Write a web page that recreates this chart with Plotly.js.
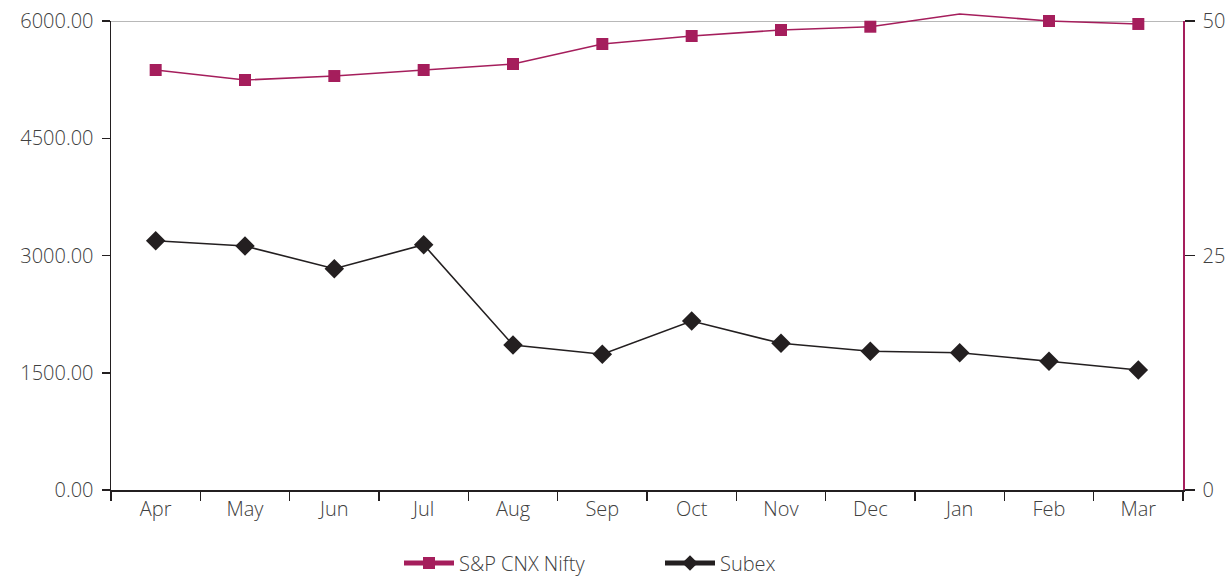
<!DOCTYPE html>
<html>
<head>
<meta charset="utf-8">
<script src="https://cdn.plot.ly/plotly-3.0.1.min.js"></script>
<style>html,body{margin:0;padding:0;background:#fff}#chart{width:1230px;height:580px}</style>
</head>
<body>
<div id="chart"></div>
<script>
var months = ["Apr","May","Jun","Jul","Aug","Sep","Oct","Nov","Dec","Jan","Feb","Mar"];
var nifty = [5373, 5245, 5296, 5373, 5450, 5706, 5808, 5885, 5927, 6090, 6000, 5962];
var subex = [26.58, 26.01, 23.59, 26.15, 15.46, 14.47, 18.02, 15.64, 14.79, 14.64, 13.72, 12.79];
var niftyName = "S&P CNX Nifty";
var subexName = "Subex";

var leftMax = 6000, rightMax = 50;
var magenta = "#A51E5C";
var dark = "#231F20";
var txt = "#404040";
var fontFam = "'Open Sans', sans-serif";

// geometry of the frame (px)
var W = 1230, H = 580, mT = 11, mB = 90, mL = 111, mR = 47;
var plotH = H - mT - mB;          // full height available to the Nifty subplot
var axisH = plotH - 10;           // height of the visible axes (top at 6000)
var domTop = axisH / plotH;

var niftySizes = nifty.map(function(v){ return v > leftMax ? 0 : 12; });

var traces = [
  {
    x: months, y: nifty, name: niftyName, type: "scatter", mode: "lines+markers",
    xaxis: "x", yaxis: "y5", cliponaxis: false,
    line: {color: magenta, width: 1.6},
    marker: {symbol: "square", color: magenta, size: niftySizes, opacity: 1, line: {width: 0}}
  },
  {
    x: months, y: subex, name: subexName, type: "scatter", mode: "lines+markers",
    xaxis: "x", yaxis: "y2", cliponaxis: false,
    line: {color: dark, width: 1.6},
    marker: {symbol: "diamond", color: dark, size: 15, opacity: 1, line: {width: 0}}
  }
];

var tickFont = {family: fontFam, size: 20, color: txt, weight: 300};

var layout = {
  width: W, height: H,
  margin: {l: mL, r: mR, t: mT, b: mB},
  paper_bgcolor: "#fff", plot_bgcolor: "rgba(0,0,0,0)",
  font: {family: fontFam, color: txt, weight: 300},
  showlegend: true,
  legend: {
    orientation: "h", xref: "paper", x: (399 - mL) / (W - mL - mR), xanchor: "left",
    yref: "container", y: 1 - 563 / H, yanchor: "middle",
    font: {family: fontFam, size: 20, color: txt, weight: 300},
    entrywidth: 196, itemwidth: 50, itemsizing: "constant"
  },
  xaxis: {
    type: "category", range: [-0.5, 11.5], tickson: "boundaries",
    showline: true, linecolor: dark, linewidth: 1.5, anchor: "y",
    ticks: "outside", ticklen: 9, tickcolor: dark, tickwidth: 1.5,
    showgrid: false, zeroline: false, tickfont: tickFont
  },
  xaxis2: {
    overlaying: "x", type: "linear", range: [-0.5, 11.5], tick0: -0.5, dtick: 1,
    anchor: "y", side: "bottom", showline: false, showticklabels: false,
    ticks: "inside", ticklen: 8, tickcolor: dark, tickwidth: 1.5,
    showgrid: false, zeroline: false
  },
  yaxis: {
    domain: [0, domTop], anchor: "x",
    range: [0, leftMax], tick0: 0, dtick: 1500, tickformat: ".2f",
    showline: true, linecolor: dark, linewidth: 1.5,
    ticks: "outside", ticklen: 8, tickcolor: dark, tickwidth: 1.5,
    showgrid: false, zeroline: false, tickfont: tickFont, ticklabelstandoff: 4
  },
  yaxis3: {
    overlaying: "y", range: [0, leftMax], tick0: 0, dtick: 1500, side: "left", anchor: "x",
    showline: false, showticklabels: false,
    ticks: "inside", ticklen: 9, tickcolor: dark, tickwidth: 1.5,
    showgrid: false, zeroline: false
  },
  yaxis2: {
    overlaying: "y", side: "right", anchor: "x", range: [0, rightMax], tick0: 0, dtick: 25,
    showline: true, linecolor: magenta, linewidth: 1.5,
    ticks: "outside", ticklen: 10, tickcolor: dark, tickwidth: 1.5,
    showgrid: false, zeroline: false, tickfont: tickFont, ticklabelstandoff: 4
  },
  yaxis4: {
    overlaying: "y", side: "right", anchor: "x", range: [0, rightMax], tick0: 0, dtick: 25,
    showline: false, showticklabels: false,
    ticks: "inside", ticklen: 9, tickcolor: dark, tickwidth: 1.5,
    showgrid: false, zeroline: false
  },
  // Nifty drawn on a taller hidden axis sharing the same scale, so its line may rise above 6000
  yaxis5: {
    domain: [0, 1], anchor: "x", visible: false,
    range: [0, leftMax / domTop], showgrid: false, zeroline: false
  },
  shapes: [
    {type: "line", xref: "paper", x0: 0, x1: 1, yref: "y", y0: leftMax, y1: leftMax,
     line: {color: "#A0A0A0", width: 1.5}, layer: "below"}
  ]
};

Plotly.newPlot("chart", traces, layout, {displayModeBar: false, staticPlot: true});
</script>
</body>
</html>
